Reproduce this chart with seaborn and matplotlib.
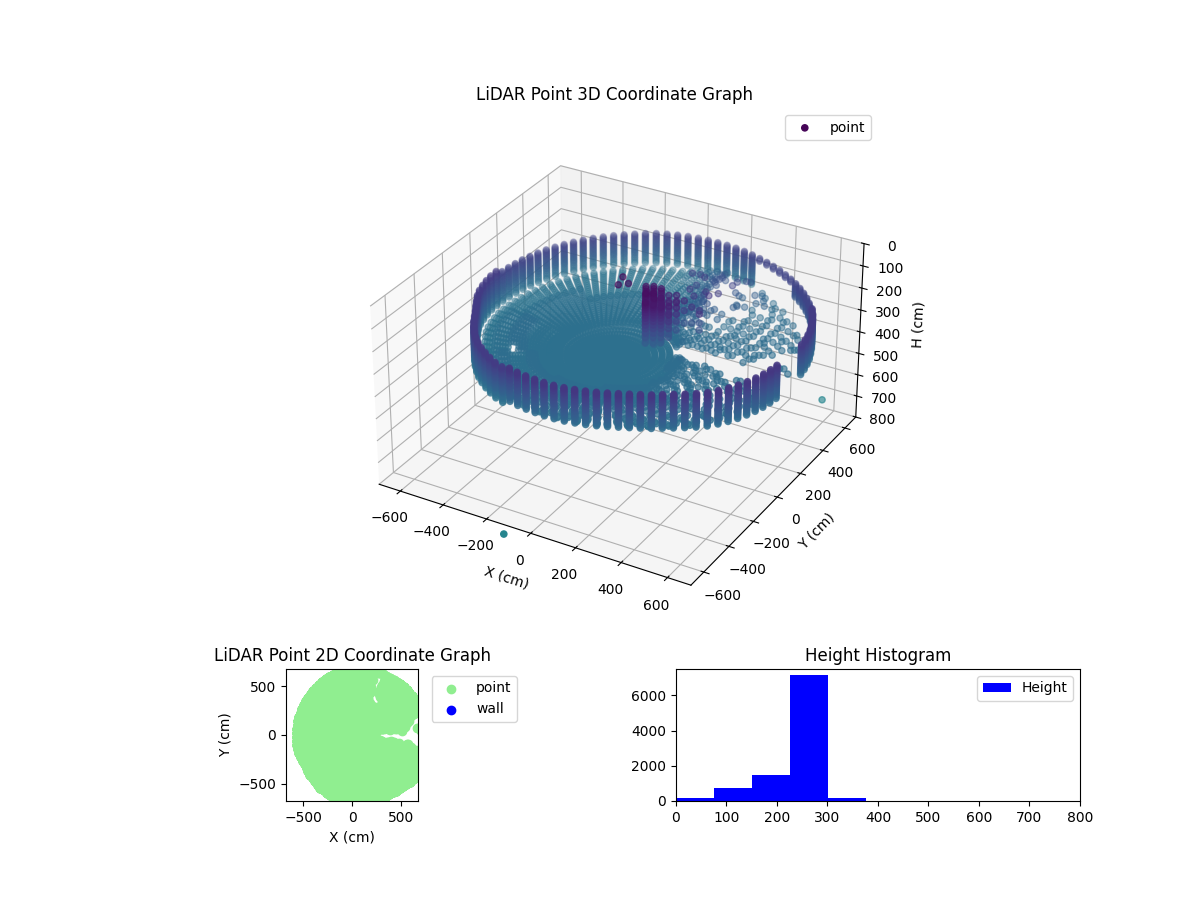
import numpy as np
import matplotlib
matplotlib.use("Agg")
import matplotlib.pyplot as plt
import seaborn as sns

# Polar scan
AZIMUTH_DEG = [0.0, 3.6, 7.2, 10.8, 14.4, 18.0, 21.6, 25.2, 28.8, 32.4,
               36.0, 39.6, 43.2, 46.8, 50.4, 54.0, 57.6, 61.2, 64.8, 68.4,
               72.0, 75.6, 79.2, 82.8, 86.4, 90.0, 93.6, 97.2, 100.8, 104.4,
               108.0, 111.6, 115.2, 118.8, 122.4, 126.0, 129.6, 133.2, 136.8, 140.4,
               144.0, 147.6, 151.2, 154.8, 158.4, 162.0, 165.6, 169.2, 172.8, 176.4,
               180.0, 183.6, 187.2, 190.8, 194.4, 198.0, 201.6, 205.2, 208.8, 212.4,
               216.0, 219.6, 223.2, 226.8, 230.4, 234.0, 237.6, 241.2, 244.8, 248.4,
               252.0, 255.6, 259.2, 262.8, 266.4, 270.0, 273.6, 277.2, 280.8, 284.4,
               288.0, 291.6, 295.2, 298.8, 302.4, 306.0, 309.6, 313.2, 316.8, 320.4,
               324.0, 327.6, 331.2, 334.8, 338.4, 342.0, 345.6, 349.2, 352.8, 356.4]
WALL_CX = 105
WALL_CY = -20
FLOOR_CX = 30
FLOOR_CY = -190
WALL_RANGE = [650, 651, 652, 653, 654, 655, 655, 656, 657, 658,
              659, 660, 661, 662, 663, 664, 665, 666, 668, 670,
              673, 676, 680, 684, 688, 691, 694, 697, 700, 702,
              704, 705, 705, 702, 698, 695, 693, 691, 689, 687,
              685, 683, 681, 680, 678, 676, 675, 673, 672, 672,
              672, 672, 670, 668, 666, 662, 656, 652, 650, 652,
              656, 660, 664, 668, 672, 674, 676, 678, 680, 678,
              676, 675, 673, 671, 670, 668, 665, 661, 657, 653,
              649, 646, 645, 646, 649, 650, 654, 660, 667, 673,
              675, 675, 674, 672, 670, 667, 663, 659, 655, 652]
WALL_TOP = [130, 130, 130, 130, 130, 130, 130, 130, 130, 130,
            150, 150, 150, 150, 150, 150, 150, 150, 150, 150,
            150, 150, 150, 150, 150, 150, 150, 150, 150, 150,
            150, 150, 150, 150, 150, 150, 150, 150, 150, 150,
            150, 150, 150, 150, 150, 150, 150, 150, 150, 150,
            130, 130, 130, 130, 130, 130, 130, 130, 130, 130,
            130, 130, 130, 130, 130, 130, 130, 130, 130, 130,
            118, 118, 118, 118, 118, 118, 118, 118, 118, 118,
            118, 118, 118, 118, 118, 118, 118, 118, 118, 118,
            118, 118, 118, 118, 118, 118, 118, 118, 118, 118]
WALL_BOTTOM = [0, 0, 262, 262, 262, 262, 262, 262, 262, 262,
               210, 210, 210, 210, 210, 210, 162, 162, 162, 162,
               162, 162, 285, 285, 285, 285, 285, 285, 285, 285,
               285, 285, 285, 285, 285, 285, 285, 285, 285, 285,
               285, 285, 285, 285, 285, 285, 285, 285, 285, 285,
               285, 285, 285, 285, 285, 285, 285, 285, 285, 285,
               285, 285, 285, 285, 285, 285, 285, 285, 285, 285,
               262, 262, 262, 262, 262, 262, 262, 262, 262, 262,
               262, 262, 262, 262, 262, 262, 262, 262, 262, 262,
               262, 262, 262, 262, 262, 262, 262, 262, 0, 0]
WALL_H = [118, 124, 130, 136, 142, 150, 156, 162, 168, 174, 180, 186, 192, 198, 204,
          210, 216, 222, 228, 234, 240, 247, 255, 262, 270, 278, 285]
RING_RANGE = [25, 45, 65, 85, 105, 125, 145, 170, 195, 220, 245, 270, 300,
              330, 360, 390, 420, 450, 480, 510, 540, 570, 600, 630, 655,
              258, 285, 315, 345, 375, 405, 435, 465, 495, 525, 555, 585, 615, 643]
RING_FULL = 700
FLOOR_H = [285, 275, 265, 255, 240, 225, 205, 185, 160, 130]
FLOOR_TABLE = [
 "1111111111 1111111111 1111111111 1111111111 1111111111 1111111111 1111111111 1111111111 1111111111 1111111111",
 "1111111111 1111111111 1111111111 1111111111 1111111111 1111111111 1111111111 1111111111 1111111111 1111111111",
 "1111111111 1111111111 1111111111 1111111111 1111111111 1111111111 1111111111 1111111111 1111111111 1111111111",
 "1111111111 1111111111 1111111111 1111111111 1111111111 1111111111 1111111111 1111111111 1111111111 1111111111",
 "1111111111 1111111111 1111111111 1111111111 1111111111 1111111111 1111111111 1111111111 1111111111 1111111111",
 "1111111111 1111111111 1111111111 1111111111 1111111111 1111111111 1111111111 1111111111 1111111111 1111111111",
 "1111111111 1111111111 1111111111 1111111111 1111111111 1111111111 1111111111 1111111111 1111111111 1111111111",
 "1111111111 1111111111 1111111111 1111111111 1111111111 1111111111 1111111111 1111111111 1111111111 1111111111",
 "1111111111 1111111111 1111111111 1111111111 1111111111 1111111111 1111111111 1111111111 1111111111 1111111111",
 "1111111111 1111111111 1111111111 1111111111 1111111111 1111111111 1111111111 1111111111 1111111111 1111111111",
 "2222222222 2222222222 1111111111 1111111111 1111111111 1111111111 1111111111 1111111111 1111111111 1111111112",
 "2223232322 3232223232 1111111111 1111111111 1111111111 1111111111 1111111111 1111111111 1111111111 1111111122",
 "2.2.22.222 22.22.2232 3332221111 1111111111 1111111111 0000000000 1111111111 1111111111 1111111111 22.22.22.2",
 ".222.2.2.2 .2.22.23.3 4433221111 1111111111 1111111111 0000000000 1111111111 1111111111 1111111111 2.22.2.22.",
 "2.22.22.2. 2.2.2.4.44 5443221111 1111111111 1111111111 1111111111 1111111111 2222222222 1111111111 22.2.22.2.",
 ".22.2.2.22 .2.2..2.55 5544321111 1111111111 1111111111 1111111111 2222222222 2222222222 1111111111 2.2.22.2.2",
 "2.222.2.2. 2.2...4.56 6544321111 1111111111 1111111111 1111111111 1111111111 1111111111 2222222222 22.2.2.2.2",
 ".22.2..2.2 .22.2..466 6654321111 1111111111 1111111111 2222222222 1111111111 1111111111 2222222222 2.22.2.22.",
 "2.2.2.2.2. 2.2.2.2.55 7654321100 0000000000 1111111111 22222222.. 1111111111 1111111.1. 1.1.1.1.1. 2.2.2.2.2.",
 ".2.2.22.2. .2.2.2.5.6 .765432100 0000000000 1111111111 22222222.. 1111111111 1.1.11.1.1 .1.1.1.1.1 22.2.2.2.2",
 "2.2.2.2.22 2.2.2..4.6 ..76432100 0000000000 1111111111 1111111111 2222222222 .1.1.1.1.1 1.1.1.1.1. 2.2.2.22.2",
 ".2.22.2..2 .2.2.2.2.4 ..6.532100 0000000000 0000000000 1111111111 2222222222 1.1.1.1.1. .1.1.1.1.1 22.2.2.2.2",
 "2.2.22.2.2 2.2.2.4.5. ...6.43210 0000000000 0000000000 1111111111 1111111111 .1.1.1.1.1 1.1.1.1.1. 2.22.2.2.2",
 ".2.2.2.22. .2.22.2.4. ..5...3210 0000000000 0000000000 0000000000 1111111111 1.1.1.1.1. .1.1.1.1.1 2.2.2.2.2.",
 "2.2.22.2.2 2.2..2.2.3 ....4.3210 0000000000 0000000000 0000000000 1111111111 .1.1.1.1.1 1.1.1.1.1. 22.2.2.2.2",
 "2222222222 2222222222 1111111111 1111111111 1111111111 1111111111 1111111111 1111111111 1111111111 1111111222",
 ".2.2.2.2.2 .2.2.2.2.2 2221111111 1111111111 1111111111 1111111111 1111111111 1111111111 1111111111 .2.2.2.2.2",
 "..2..2..2. 2..2..2..3 3322111111 1111111111 1111111111 1111111111 1111111111 1111111111 2222222222 .2..2..2..",
 "2..2..2..2 ..2..2..3. 4332111111 1111111111 1111111111 1111111111 1111111111 2222222222 2222222222 2..2..2..2",
 ".2..2..2.. 2..2..3..4 4432111111 1111111111 1111111111 1111111111 2222222222 2222222222 1111111111 ..2..2..2.",
 "..2..2..2. .2..2...45 5432111111 1111111111 1111111111 1111111111 2222222222 1111111111 1111111111 .2..2..2..",
 "2..2..2..2 ..2..2..5. 6543211111 1111111111 1111111111 2222222222 1111111111 1111111111 2222222222 2..2..2..2",
 ".2..2..2.. 2..2..2..6 6543211100 0000000000 1111111111 2222222222 1111111111 .1.1.1.1.1 2222222222 ..2..2..2.",
 "..2..2..2. .2..2..5.. 7654321100 0000000000 1111111111 22222222.. 1111111111 1.1.1.1.1. .2.2.2.2.2 .2..2..2..",
 "2..2..2..2 ..2..2..4. ..65321100 0000000000 1111111111 1111111111 2222222222 .1.1.1.1.1 2.2.2.2.2. 2..2..2..2",
 ".2..2..2.. 2..2..2..5 ..76432100 0000000000 0000000000 1111111111 2222222222 1.1.1.1.1. .1.1.1.1.1 ..2..2..2.",
 "..2..2..2. .2..2..4.. ...6543210 0000000000 0000000000 1111111111 1111111111 .1.1.1.1.1 1.1.1.1.1. .2..2..2..",
 "2..2..2..2 ..2..2.4.. ....543210 0000000000 0000000000 0000000000 1111111111 1.1.1.1.1. .1.1.1.1.1 2..2..2..2",
 ".2..2..2.. 2..2..2.3. .....43210 0000000000 0000000000 0000000000 1111111111 .1.1.1.1.1 1.1.1.1.1. ..2..2..2.",
]
# x0, y0, x1, y1, half width of each zone with no returns
GAP_ZONES = [(285, 0, 450, -12, 50), (450, -12, 600, -25, 55), (600, -25, 700, -55, 66),
             (215, 385, 235, 345, 52), (615, 100, 650, 130, 52)]
TOP_X = [6, 19, 42]
TOP_Y = [-4, -62, -24]
TOP_H = [8, 12, 18]
COLUMN_LEVELS = [28, 38, 48, 58, 68, 80, 92, 105, 120, 135, 150, 170, 190, 215, 240]
COLUMN_X = [104, 131, 158, 155, 182, 209, 130, 157, 184, 120, 147, 171, 198,
            206, 233, 260, 180, 208, 235, 222, 249,
            257, 284, 311, 232, 259, 286, 273, 300, 283, 310, 324]
COLUMN_Y = [5, -45, -95, 35, -15, -65, 20, -30, -80, -15, -70, -50, -40,
            65, 15, -35, 50, 0, -50, -25, -10,
            95, 45, -5, 80, 30, -20, 5, 20, 110, 60, 35]
COLUMN_TOP = [28, 28, 38, 38, 48, 58, 28, 28, 48, 38, 48, 38, 58,
              68, 58, 80, 58, 68, 80, 68, 80,
              92, 80, 105, 92, 68, 105, 120, 92, 135, 105, 120]
COLUMN_BOTTOM = [240, 240, 215, 215, 240, 215, 240, 240, 215, 240, 215, 240, 215,
                 190, 215, 190, 215, 190, 215, 190, 215,
                 240, 190, 240, 215, 240, 190, 240, 215, 240, 215, 240]
COLUMN_STRIDE = [1, 1, 1, 1, 1, 1, 1, 1, 1, 1, 1, 1, 1,
                 2, 2, 2, 2, 2, 2, 2, 2,
                 4, 3, 4, 3, 4, 3, 4, 5, 3, 4, 5]
BUMP_X = [112, 132, 162, 192, 222, 252, 267, 277, 262, 232, 202, 182, 152, 242, 272, 292, 217, 172, 282, 302]
BUMP_Y = [366, 396, 376, 356, 376, 366, 326, 276, 226, 256, 296, 426, 326, 416, 446, 486, 186, 236, 386, 506]
BUMP_H = [135, 150, 145, 165, 170, 150, 160, 140, 130, 135, 175, 185, 160, 175, 170, 180, 125, 130, 155, 190]
OUTLIER_X = [292, 851]
OUTLIER_Y = [-1342, 53]
OUTLIER_H = [340, 340]
WALL2D_X = []
WALL2D_Y = []
HIST_EDGES = [0, 75.2, 150.4, 225.6, 300.8, 376, 451.2, 526.4, 601.6, 676.8, 752]
HIST_COUNTS = [170, 750, 1500, 7150, 170, 0, 0, 0, 0, 3]

az = np.radians(AZIMUTH_DEG)
wall_x = WALL_CX + np.array(WALL_RANGE) * np.cos(az)
wall_y = WALL_CY + np.array(WALL_RANGE) * np.sin(az)
xs, ys, hs = list(TOP_X), list(TOP_Y), list(TOP_H)
for cx, cy, top, bottom, stride in zip(COLUMN_X, COLUMN_Y, COLUMN_TOP, COLUMN_BOTTOM, COLUMN_STRIDE):
    for h in COLUMN_LEVELS[::stride]:
        if top <= h <= bottom:
            xs.append(cx)
            ys.append(cy)
            hs.append(h)
xs += BUMP_X
ys += BUMP_Y
hs += BUMP_H
for i in range(len(az)):
    for h in WALL_H:
        if WALL_TOP[i] <= h <= WALL_BOTTOM[i]:
            xs.append(wall_x[i])
            ys.append(wall_y[i])
            hs.append(h)
for r, row in zip(RING_RANGE, FLOOR_TABLE):
    f = r / RING_FULL
    for i, ch in enumerate(row.replace(" ", "")):
        if ch != ".":
            xs.append(FLOOR_CX + f * (wall_x[i] - FLOOR_CX))
            ys.append(FLOOR_CY + f * (wall_y[i] - FLOOR_CY))
            hs.append(FLOOR_H[int(ch)])
xs, ys, hs = np.array(xs, float), np.array(ys, float), np.array(hs, float)
keep = np.ones(len(xs), bool)
for x0, y0, x1, y1, half in GAP_ZONES:
    dx, dy = x1 - x0, y1 - y0
    t = np.clip(((xs - x0) * dx + (ys - y0) * dy) / (dx * dx + dy * dy), 0, 1)
    keep &= np.hypot(xs - x0 - t * dx, ys - y0 - t * dy) > half
xs, ys, hs = xs[keep], ys[keep], hs[keep]
xs = np.concatenate([xs, OUTLIER_X])
ys = np.concatenate([ys, OUTLIER_Y])
hs = np.concatenate([hs, OUTLIER_H])

fig = plt.figure(figsize=(12, 9), dpi=100)

ax3d = fig.add_axes([0.125, 0.296, 0.775, 0.584], projection="3d")
ax3d.scatter(xs, ys, hs, c=hs, cmap="viridis", vmin=0, vmax=750, label="point")
ax3d.set_xlim(-700, 700)
ax3d.set_ylim(-700, 700)
ax3d.set_zlim(800, 0)
ax3d.set_aspect("equal")
ax3d.set_xticks([-600, -400, -200, 0, 200, 400, 600])
ax3d.set_yticks([-600, -400, -200, 0, 200, 400, 600])
ax3d.set_zticks([0, 100, 200, 300, 400, 500, 600, 700, 800])
ax3d.set_xlabel("X (cm)")
ax3d.set_ylabel("Y (cm)")
ax3d.set_zlabel("H (cm)")
ax3d.set_title("LiDAR Point 3D Coordinate Graph")
ax3d.legend(loc="upper right")

ax2d = fig.add_axes([0.125, 0.11, 0.3367, 0.1467])
sns.scatterplot(x=xs, y=ys, color="lightgreen", s=36, linewidth=1, edgecolor="lightgreen",
                label="point", ax=ax2d)
ax2d.scatter(WALL2D_X, WALL2D_Y, c="blue", label="wall")
ax2d.set_aspect("equal")
ax2d.set_xlim(-675, 675)
ax2d.set_ylim(-675, 675)
ax2d.set_xticks([-500, 0, 500])
ax2d.set_yticks([-500, 0, 500])
ax2d.set_xlabel("X (cm)")
ax2d.set_ylabel("Y (cm)")
ax2d.set_title("LiDAR Point 2D Coordinate Graph")
ax2d.legend(loc="upper left", bbox_to_anchor=(1.05, 1))

axh = fig.add_axes([0.5633, 0.11, 0.3367, 0.1467])
sns.histplot(x=HIST_EDGES[:-1], weights=HIST_COUNTS, bins=HIST_EDGES, color="blue", alpha=1,
             linewidth=0, label="Height", ax=axh)
axh.set_xlim(0, 800)
axh.set_ylabel("")
axh.set_title("Height Histogram")
axh.legend(loc="upper right")

fig.savefig("out.png", dpi=100)
